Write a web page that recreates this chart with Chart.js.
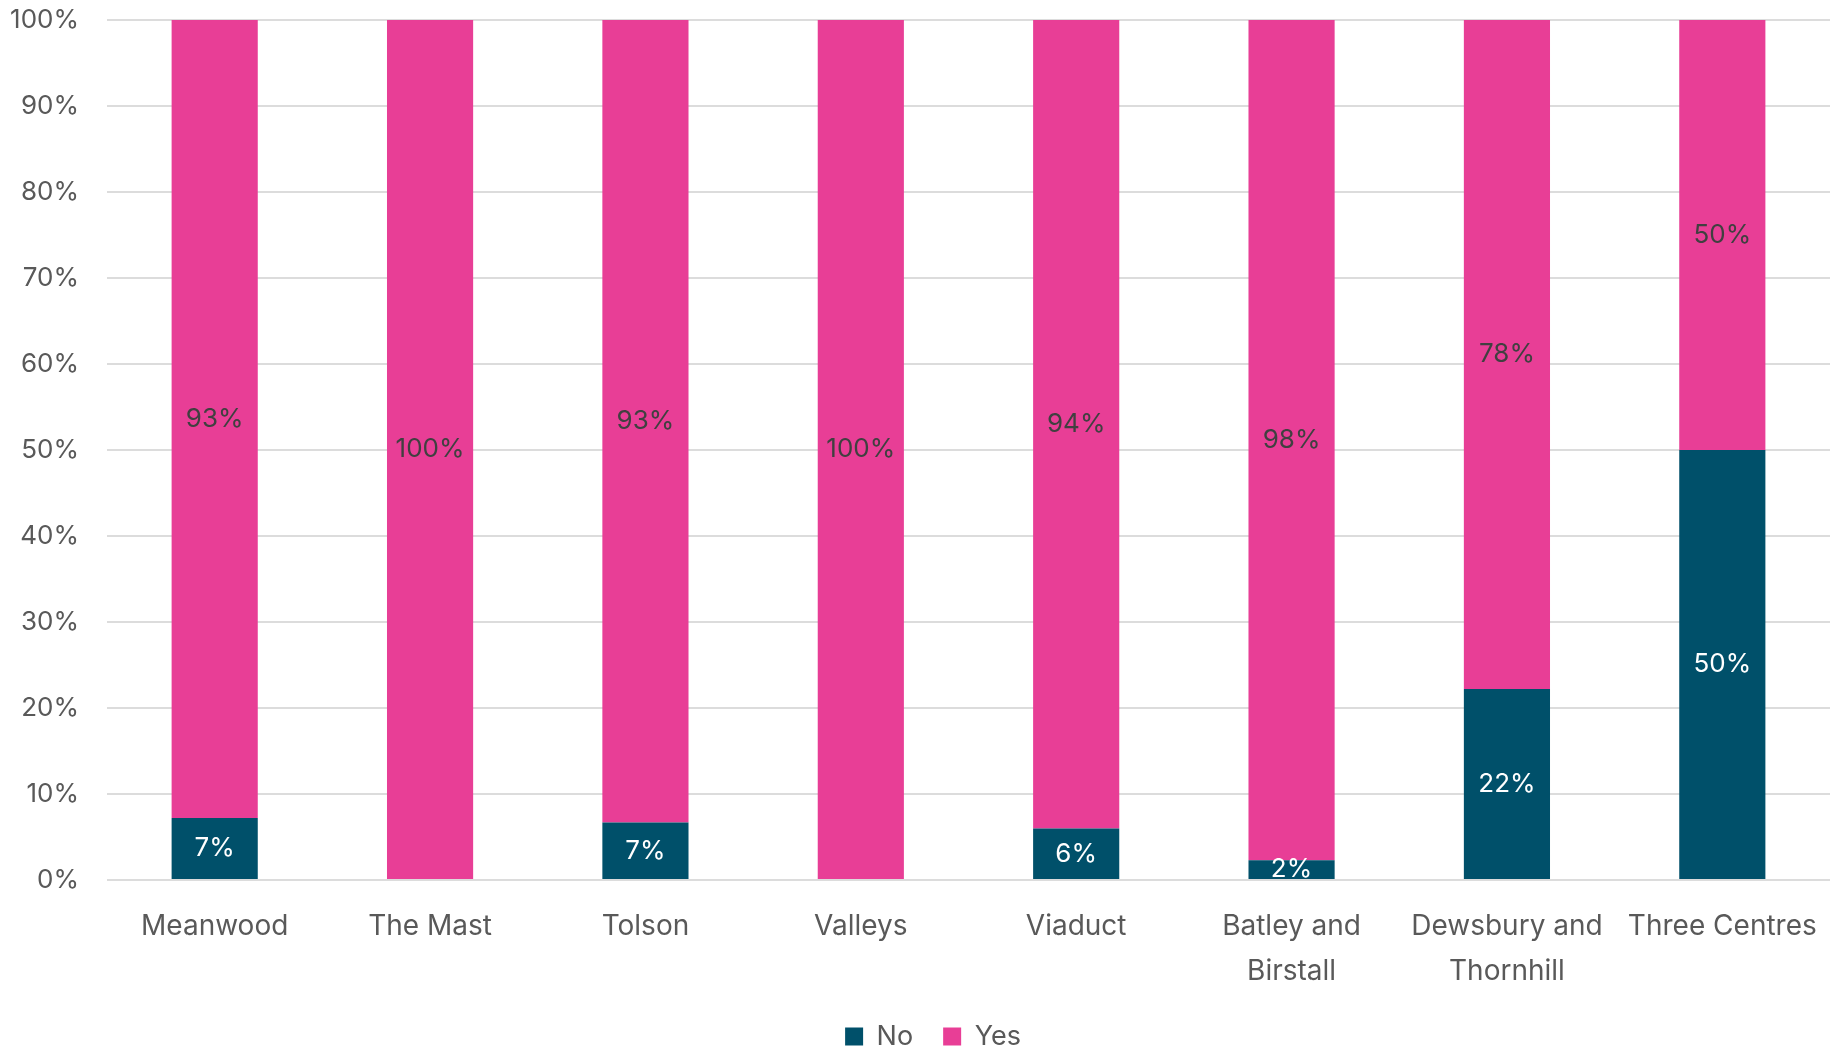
<!DOCTYPE html>
<html>
<head>
<meta charset="utf-8">
<script src="https://cdn.jsdelivr.net/npm/chart.js@4.4.1/dist/chart.umd.min.js"></script>
<style>
  html, body { margin: 0; padding: 0; background: #fff; }
  #wrap { width: 1843px; height: 1050px; }
</style>
</head>
<body>
<div id="wrap"><canvas id="chart"></canvas></div>
<script>
// data (percent of responses)
const centres = ['Meanwood', 'The Mast', 'Tolson', 'Valleys', 'Viaduct',
                 ['Batley and', 'Birstall'], ['Dewsbury and', 'Thornhill'], 'Three Centres'];
const noValues  = [7.2, 0, 6.7, 0, 6.0, 2.3, 22.2, 50];
const yesValues = [92.8, 100, 93.3, 100, 94.0, 97.7, 77.8, 50];
const yTicks = [0, 10, 20, 30, 40, 50, 60, 70, 80, 90, 100];

const FONT = 'Inter, "Open Sans", sans-serif';

// draw value labels in the middle of each segment
const segmentLabels = {
  id: 'segmentLabels',
  afterDatasetsDraw(chart) {
    const ctx = chart.ctx;
    const area = chart.chartArea;
    ctx.save();
    ctx.beginPath();
    ctx.rect(area.left, area.top, area.right - area.left, area.bottom - area.top);
    ctx.clip();
    ctx.font = '400 26px ' + FONT;
    ctx.textAlign = 'center';
    ctx.textBaseline = 'middle';
    chart.data.datasets.forEach((ds, i) => {
      const meta = chart.getDatasetMeta(i);
      meta.data.forEach((bar, j) => {
        const v = ds.data[j];
        if (!v) return;
        ctx.fillStyle = ds.labelColor;
        ctx.fillText(Math.round(v) + '%', bar.x, (bar.y + bar.base) / 2);
      });
    });
    ctx.restore();
  }
};

// nudge the legend a bit to the right, like the original
const legendShift = {
  id: 'legendShift',
  afterLayout(chart) {
    if (chart.legend) {
      chart.legend.left += 18;
      chart.legend.right += 18;
    }
  }
};

new Chart(document.getElementById('chart'), {
  type: 'bar',
  data: {
    labels: centres,
    datasets: [
      { label: 'No', data: noValues, backgroundColor: '#00506A', labelColor: '#ffffff' },
      { label: 'Yes', data: yesValues, backgroundColor: '#E83E96', labelColor: '#404040' }
    ]
  },
  options: {
    responsive: true,
    maintainAspectRatio: false,
    animation: false,
    datasets: { bar: { categoryPercentage: 0.4, barPercentage: 1.0 } },
    layout: { padding: { top: 20, right: 13, left: 0, bottom: -10 } },
    plugins: {
      legend: {
        position: 'bottom',
        labels: {
          boxWidth: 18, boxHeight: 18, padding: 30,
          color: '#595959',
          font: { family: FONT, size: 27 }
        }
      },
      tooltip: { enabled: false }
    },
    scales: {
      x: {
        stacked: true,
        grid: { display: false },
        border: { display: false },
        ticks: {
          color: '#595959', padding: 16, maxRotation: 0, autoSkip: false,
          font: { family: FONT, size: 28, lineHeight: 1.6 }
        },
        afterFit(scale) { scale.height = 113; }
      },
      y: {
        stacked: true,
        min: 0, max: 100,
        afterBuildTicks(scale) { scale.ticks = yTicks.map(v => ({ value: v })); },
        grid: { color: '#dcdcdc', lineWidth: 2, drawTicks: true, tickLength: 28, tickColor: 'rgba(0,0,0,0)' },
        border: { display: false },
        ticks: {
          color: '#595959', padding: 0,
          font: { family: FONT, size: 26 },
          callback: v => v + '%'
        },
        afterFit(scale) { scale.width = 107; }
      }
    }
  },
  plugins: [segmentLabels, legendShift]
});
</script>
</body>
</html>
